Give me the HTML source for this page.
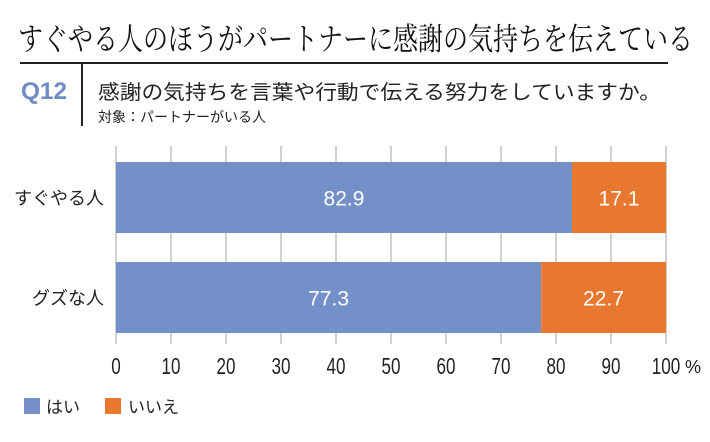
<!DOCTYPE html>
<html><head><meta charset="utf-8"><style>
body{margin:0;width:710px;height:437px;background:#fff;overflow:hidden;font-family:"Liberation Sans","Noto Sans CJK JP",sans-serif;}
</style></head><body>
<svg width="710" height="437" xmlns="http://www.w3.org/2000/svg">
<text x="18" y="50" font-family="'Noto Serif CJK JP','Noto Serif CJK SC','Liberation Serif',serif" font-size="31" fill="#111" textLength="675" lengthAdjust="spacingAndGlyphs">すぐやる人のほうがパートナーに感謝の気持ちを伝えている</text>
<line x1="20" y1="63" x2="668" y2="63" stroke="#222" stroke-width="2"/>
<text x="21" y="99" font-family="'Liberation Sans Narrow','Liberation Sans',sans-serif" font-size="24" font-weight="bold" fill="#6f8cc4" textLength="46" lengthAdjust="spacingAndGlyphs">Q12</text>
<line x1="82" y1="64" x2="82" y2="126" stroke="#222" stroke-width="2"/>
<text x="98" y="99" font-size="20" fill="#222" textLength="563" lengthAdjust="spacingAndGlyphs">感謝の気持ちを言葉や行動で伝える努力をしていますか。</text>
<text x="98" y="122" font-size="14" fill="#222">対象：パートナーがいる人</text>
<g id="plot"></g>
</svg>
<script>
const categories=["すぐやる人","グズな人"];
const yesValues=[82.9,77.3];
const noValues=[17.1,22.7];
const ticks=[0,10,20,30,40,50,60,70,80,90,100];
const x0=116,x1=666;
const xs=v=>x0+(x1-x0)*v/100;
const barTops=[162,262],barH=71;
const ns="http://www.w3.org/2000/svg";
const g=document.getElementById('plot');
const narrow="'Liberation Sans Narrow','Liberation Sans',sans-serif";
function mk(t,a){const e=document.createElementNS(ns,t);for(const k in a)e.setAttribute(k,a[k]);g.appendChild(e);return e;}
ticks.forEach(t=>{
 const l=mk('line',{x1:xs(t),x2:xs(t),y1:146,y2:344,stroke:'#a9a097','stroke-width':1});
 
 
 const tx=mk('text',{x:xs(t),y:374,'text-anchor':'middle','font-size':23,'font-family':narrow,fill:'#222',textLength:String(t).length*9.5,lengthAdjust:'spacingAndGlyphs'});
 tx.textContent=t;
 
 
});
const pct=mk('text',{x:685,y:373,'font-size':18,'font-family':narrow,fill:'#222'});pct.textContent='%';


categories.forEach((c,i)=>{
 const y=barTops[i];
 const b1=mk('rect',{x:xs(0),y:y,width:xs(yesValues[i])-xs(0),height:barH,fill:'#7390c9'});
 
 
 const b2=mk('rect',{x:xs(yesValues[i]),y:y,width:xs(yesValues[i]+noValues[i])-xs(yesValues[i]),height:barH,fill:'#e8782f'});
 
 
 const t1=mk('text',{x:(xs(0)+xs(yesValues[i]))/2,y:y+barH/2+8,'text-anchor':'middle','font-size':21,'font-family':narrow,fill:'#fff'});t1.textContent=yesValues[i].toFixed(1);
 
 
 const t2=mk('text',{x:(xs(yesValues[i])+xs(yesValues[i]+noValues[i]))/2,y:y+barH/2+8,'text-anchor':'middle','font-size':21,'font-family':narrow,fill:'#fff'});t2.textContent=noValues[i].toFixed(1);
 
 
 const cl=mk('text',{x:104,y:y+barH/2+7,'text-anchor':'end','font-size':18,fill:'#222'});cl.textContent=c;
 
 
});
const l1=mk('rect',{x:24,y:398,width:16,height:16,fill:'#7390c9'});


const lt1=mk('text',{x:46,y:413,'font-size':17,fill:'#222'});lt1.textContent='はい';


const l2=mk('rect',{x:105,y:398,width:16,height:16,fill:'#e8782f'});


const lt2=mk('text',{x:128,y:413,'font-size':17,fill:'#222'});lt2.textContent='いいえ';


</script>
</body></html>
